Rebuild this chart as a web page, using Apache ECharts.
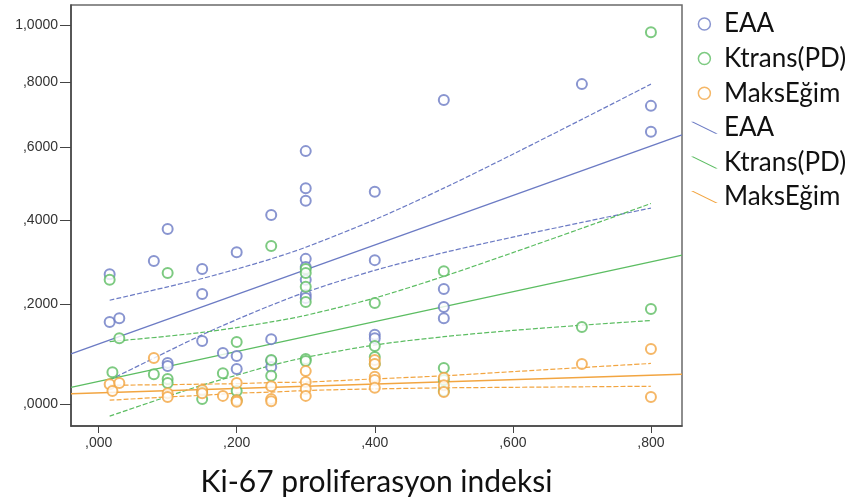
<!DOCTYPE html>
<html>
<head>
<meta charset="utf-8">
<script src="https://cdn.jsdelivr.net/npm/echarts@6/dist/echarts.min.js"></script>
<style>
html, body { margin: 0; padding: 0; background: #fff; }
#chart { width: 856px; height: 503px; }
</style>
</head>
<body>
<div id="chart"></div>
<script>
// tick values (original units); y axis drawn on a log(1+y) scale
var xTicks = [0, 0.2, 0.4, 0.6, 0.8];
var yTicks = [0, 0.2, 0.4, 0.6, 0.8, 1.0];

// scatter points [Ki-67, value]
var eaaPoints = [
    [0.016, 0.268], [0.016, 0.162], [0.03, 0.170], [0.08, 0.299], [0.1, 0.377],
    [0.1, 0.078], [0.1, 0.072], [0.15, 0.280], [0.15, 0.223], [0.15, 0.122],
    [0.18, 0.098], [0.2, 0.320], [0.2, 0.092], [0.2, 0.066], [0.25, 0.413],
    [0.25, 0.126], [0.25, 0.082], [0.25, 0.070], [0.3, 0.588], [0.3, 0.484],
    [0.3, 0.450], [0.3, 0.304], [0.3, 0.285], [0.3, 0.255], [0.3, 0.221],
    [0.3, 0.214], [0.4, 0.474], [0.4, 0.301], [0.4, 0.135], [0.4, 0.128],
    [0.5, 0.744], [0.5, 0.234], [0.5, 0.194], [0.5, 0.170], [0.7, 0.795],
    [0.8, 0.725], [0.8, 0.645]
];
var ktransPoints = [
    [0.016, 0.255], [0.1, 0.271], [0.03, 0.128], [0.02, 0.060], [0.08, 0.056],
    [0.1, 0.047], [0.1, 0.039], [0.15, 0.022], [0.15, 0.009], [0.18, 0.058],
    [0.2, 0.120], [0.2, 0.024], [0.2, 0.007], [0.25, 0.335], [0.25, 0.084],
    [0.25, 0.053], [0.3, 0.280], [0.3, 0.271], [0.3, 0.239], [0.3, 0.205],
    [0.3, 0.086], [0.3, 0.082], [0.4, 0.203], [0.4, 0.112], [0.4, 0.090],
    [0.4, 0.076], [0.5, 0.275], [0.5, 0.068], [0.5, 0.045], [0.5, 0.024],
    [0.7, 0.151], [0.8, 0.190], [0.8, 0.974]
];
var maksPoints = [
    [0.016, 0.037], [0.02, 0.024], [0.03, 0.039], [0.08, 0.088], [0.1, 0.020],
    [0.1, 0.013], [0.15, 0.026], [0.15, 0.020], [0.18, 0.015], [0.2, 0.039],
    [0.2, 0.007], [0.2, 0.004], [0.25, 0.033], [0.25, 0.009], [0.25, 0.005],
    [0.3, 0.062], [0.3, 0.041], [0.3, 0.028], [0.3, 0.015], [0.4, 0.084],
    [0.4, 0.076], [0.4, 0.051], [0.4, 0.045], [0.4, 0.030], [0.5, 0.049],
    [0.5, 0.035], [0.5, 0.022], [0.7, 0.076], [0.8, 0.106], [0.8, 0.013]
];

// fit lines, value at the two plot edges
var fitX = [-0.04, 0.845];
var eaaFit = [0.096, 0.636];
var ktransFit = [0.031, 0.313];
var maksFit = [0.019, 0.056];

// confidence band lines
var ciX = [0.016, 0.1, 0.15, 0.2, 0.25, 0.3, 0.4, 0.5, 0.6, 0.7, 0.8];
var eaaUpper = [0.209, 0.239, 0.258, 0.280, 0.304, 0.332, 0.401, 0.484, 0.579, 0.683, 0.795];
var eaaLower = [0.045, 0.101, 0.135, 0.167, 0.198, 0.227, 0.277, 0.319, 0.357, 0.394, 0.431];
var ktransUpper = [0.121, 0.132, 0.140, 0.150, 0.162, 0.176, 0.214, 0.263, 0.319, 0.379, 0.443];
var ktransLower = [-0.022, 0.014, 0.035, 0.054, 0.073, 0.089, 0.114, 0.131, 0.144, 0.155, 0.165];
var maksUpper = [0.035, 0.036, 0.037, 0.038, 0.040, 0.041, 0.047, 0.053, 0.061, 0.069, 0.077];
var maksLower = [0.007, 0.013, 0.016, 0.020, 0.022, 0.025, 0.028, 0.030, 0.031, 0.032, 0.033];

var blue = '#6c7bc4', green = '#5cbd62', orange = '#f2a541';

function tf(y) { return Math.log(1 + y); }
function pts(arr) { return arr.map(function (p) { return [p[0], tf(p[1])]; }); }
function zipTf(xs, ys) { return xs.map(function (x, i) { return [x, tf(ys[i])]; }); }
function fmt(v) { return v.toFixed(4).replace('.', ',').replace(/^0/, ''); }

var chart = echarts.init(document.getElementById('chart'));

function scatter(name, data, color) {
    return {
        name: name, type: 'scatter', data: pts(data), symbol: 'emptyCircle', symbolSize: 10,
        itemStyle: { color: color, borderColor: color, borderWidth: 1.5 }, z: 5
    };
}
function fit(name, ys, color) {
    return {
        name: name, type: 'line', data: zipTf(fitX, ys), showSymbol: false, symbol: 'none',
        lineStyle: { color: color, width: 1.4 }, itemStyle: { color: color }, z: 3
    };
}
function band(ys, color) {
    return {
        name: '_band', type: 'line', data: zipTf(ciX, ys), symbol: 'none', smooth: 0.3,
        lineStyle: { color: color, width: 1.2, type: [5, 2] }, z: 2
    };
}
var lineIcon = 'path://M0,0L2.5,0L29,13L26.5,13Z';

chart.setOption({
    animation: false,
    grid: { left: 71, right: 174, top: 5, bottom: 77, show: true, borderColor: '#6a6a6a', borderWidth: 1.5 },
    xAxis: {
        type: 'value', min: -0.04, max: 0.845,
        name: 'Ki-67 proliferasyon indeksi', nameLocation: 'middle', nameGap: 41,
        nameTextStyle: { fontFamily: 'Lato', fontSize: 30, color: '#111' },
        axisLine: { onZero: false, lineStyle: { color: '#444', width: 1.5 } },
        axisTick: { length: 7, lineStyle: { color: '#444' }, customValues: xTicks },
        axisLabel: {
            customValues: xTicks, margin: 10, fontFamily: 'Liberation Sans', fontSize: 14, color: '#333',
            formatter: function (v) { return v.toFixed(3).replace('.', ',').replace(/^0/, ''); }
        },
        splitLine: { show: false }
    },
    yAxis: {
        type: 'value', min: -0.0402, max: 0.7297,
        axisLine: { onZero: false, lineStyle: { color: '#444', width: 1.5 } },
        axisTick: { length: 11, lineStyle: { color: '#444' }, customValues: yTicks.map(tf) },
        axisLabel: {
            customValues: yTicks.map(tf), margin: 13, fontFamily: 'Liberation Sans', fontSize: 14, color: '#333',
            formatter: function (v) { return fmt(Math.exp(v) - 1); }
        },
        splitLine: { show: false }
    },
    legend: {
        orient: 'vertical', left: 686, top: 6, itemGap: 8.6, itemWidth: 29, itemHeight: 12,
        textStyle: { fontFamily: 'Lato', fontSize: 26, color: '#111', lineHeight: 24 },
        formatter: function (n) { return n.trim(); },
        data: [
            { name: 'EAA', icon: 'circle', itemStyle: { color: '#fff', borderColor: blue, borderWidth: 1.5 } },
            { name: 'Ktrans(PD)', icon: 'circle', itemStyle: { color: '#fff', borderColor: green, borderWidth: 1.5 } },
            { name: 'MaksEğim', icon: 'circle', itemStyle: { color: '#fff', borderColor: orange, borderWidth: 1.5 } },
            { name: 'EAA ', icon: lineIcon, itemStyle: { color: blue, borderWidth: 0 } },
            { name: 'Ktrans(PD) ', icon: lineIcon, itemStyle: { color: green, borderWidth: 0 } },
            { name: 'MaksEğim ', icon: lineIcon, itemStyle: { color: orange, borderWidth: 0 } }
        ]
    },
    series: [
        band(eaaUpper, blue), band(eaaLower, blue),
        band(ktransUpper, green), band(ktransLower, green),
        band(maksUpper, orange), band(maksLower, orange),
        fit('EAA ', eaaFit, blue), fit('Ktrans(PD) ', ktransFit, green), fit('MaksEğim ', maksFit, orange),
        scatter('EAA', eaaPoints, blue), scatter('Ktrans(PD)', ktransPoints, green), scatter('MaksEğim', maksPoints, orange)
    ]
});
</script>
</body>
</html>
